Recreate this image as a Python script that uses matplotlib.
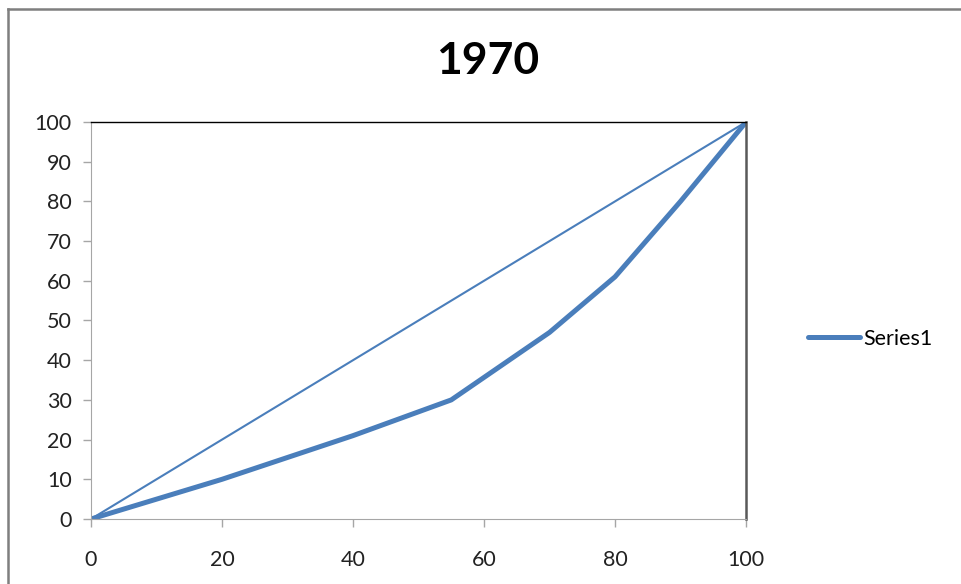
import matplotlib.pyplot as plt
from matplotlib.lines import Line2D

plt.rcParams['font.family'] = ['Lato', 'DejaVu Sans']

# Lorenz curve points, 1970
pop_share = [0, 20, 40, 55, 70, 80, 90, 100]
income_share = [0, 10, 21, 30, 47, 61, 80, 100]

# line of equality
equal_x = [0, 100]
equal_y = [0, 100]

blue = '#4a7ebb'

fig = plt.figure(figsize=(9.61, 5.84), dpi=100)
ax = fig.add_axes([0.0947, 0.1113, 0.6816, 0.6798])

ax.plot(equal_x, equal_y, color=blue, lw=1.5, solid_capstyle='round')
ax.plot(pop_share, income_share, color=blue, lw=3.6, solid_capstyle='round',
        solid_joinstyle='round', label='Series1')

ax.set_xlim(0, 100)
ax.set_ylim(0, 100)
ax.set_xticks(range(0, 101, 20))
ax.set_yticks(range(0, 101, 10))
ax.tick_params(axis='both', direction='out', length=6, width=1, color='#a6a6a6',
               labelsize=15.5, labelcolor='#222222')
ax.tick_params(axis='x', pad=16)
ax.tick_params(axis='y', pad=8)

ax.spines['left'].set_color('#a6a6a6')
ax.spines['bottom'].set_color('#a6a6a6')
ax.spines['top'].set_color('black')
ax.spines['top'].set_linewidth(1)
ax.spines['right'].set_color('#595959')
ax.spines['right'].set_linewidth(1.8)

fig.text(0.507, 0.895, '1970', ha='center', va='center', fontsize=32, fontweight='bold')

leg = fig.legend(handles=[ax.lines[1]], loc='center left', bbox_to_anchor=(0.832, 0.42),
                 frameon=False, fontsize=15.5, handlelength=2.4, handletextpad=0.15,
                 borderaxespad=0)

# chart frame (left and top edges visible)
fig.add_artist(Line2D([0.0083, 0.0083], [0, 0.985], transform=fig.transFigure,
                      color='#7f7f7f', lw=1.8))
fig.add_artist(Line2D([0.0083, 1.0], [0.985, 0.985], transform=fig.transFigure,
                      color='#7f7f7f', lw=1.8))

fig.savefig('out.png', dpi=100)
